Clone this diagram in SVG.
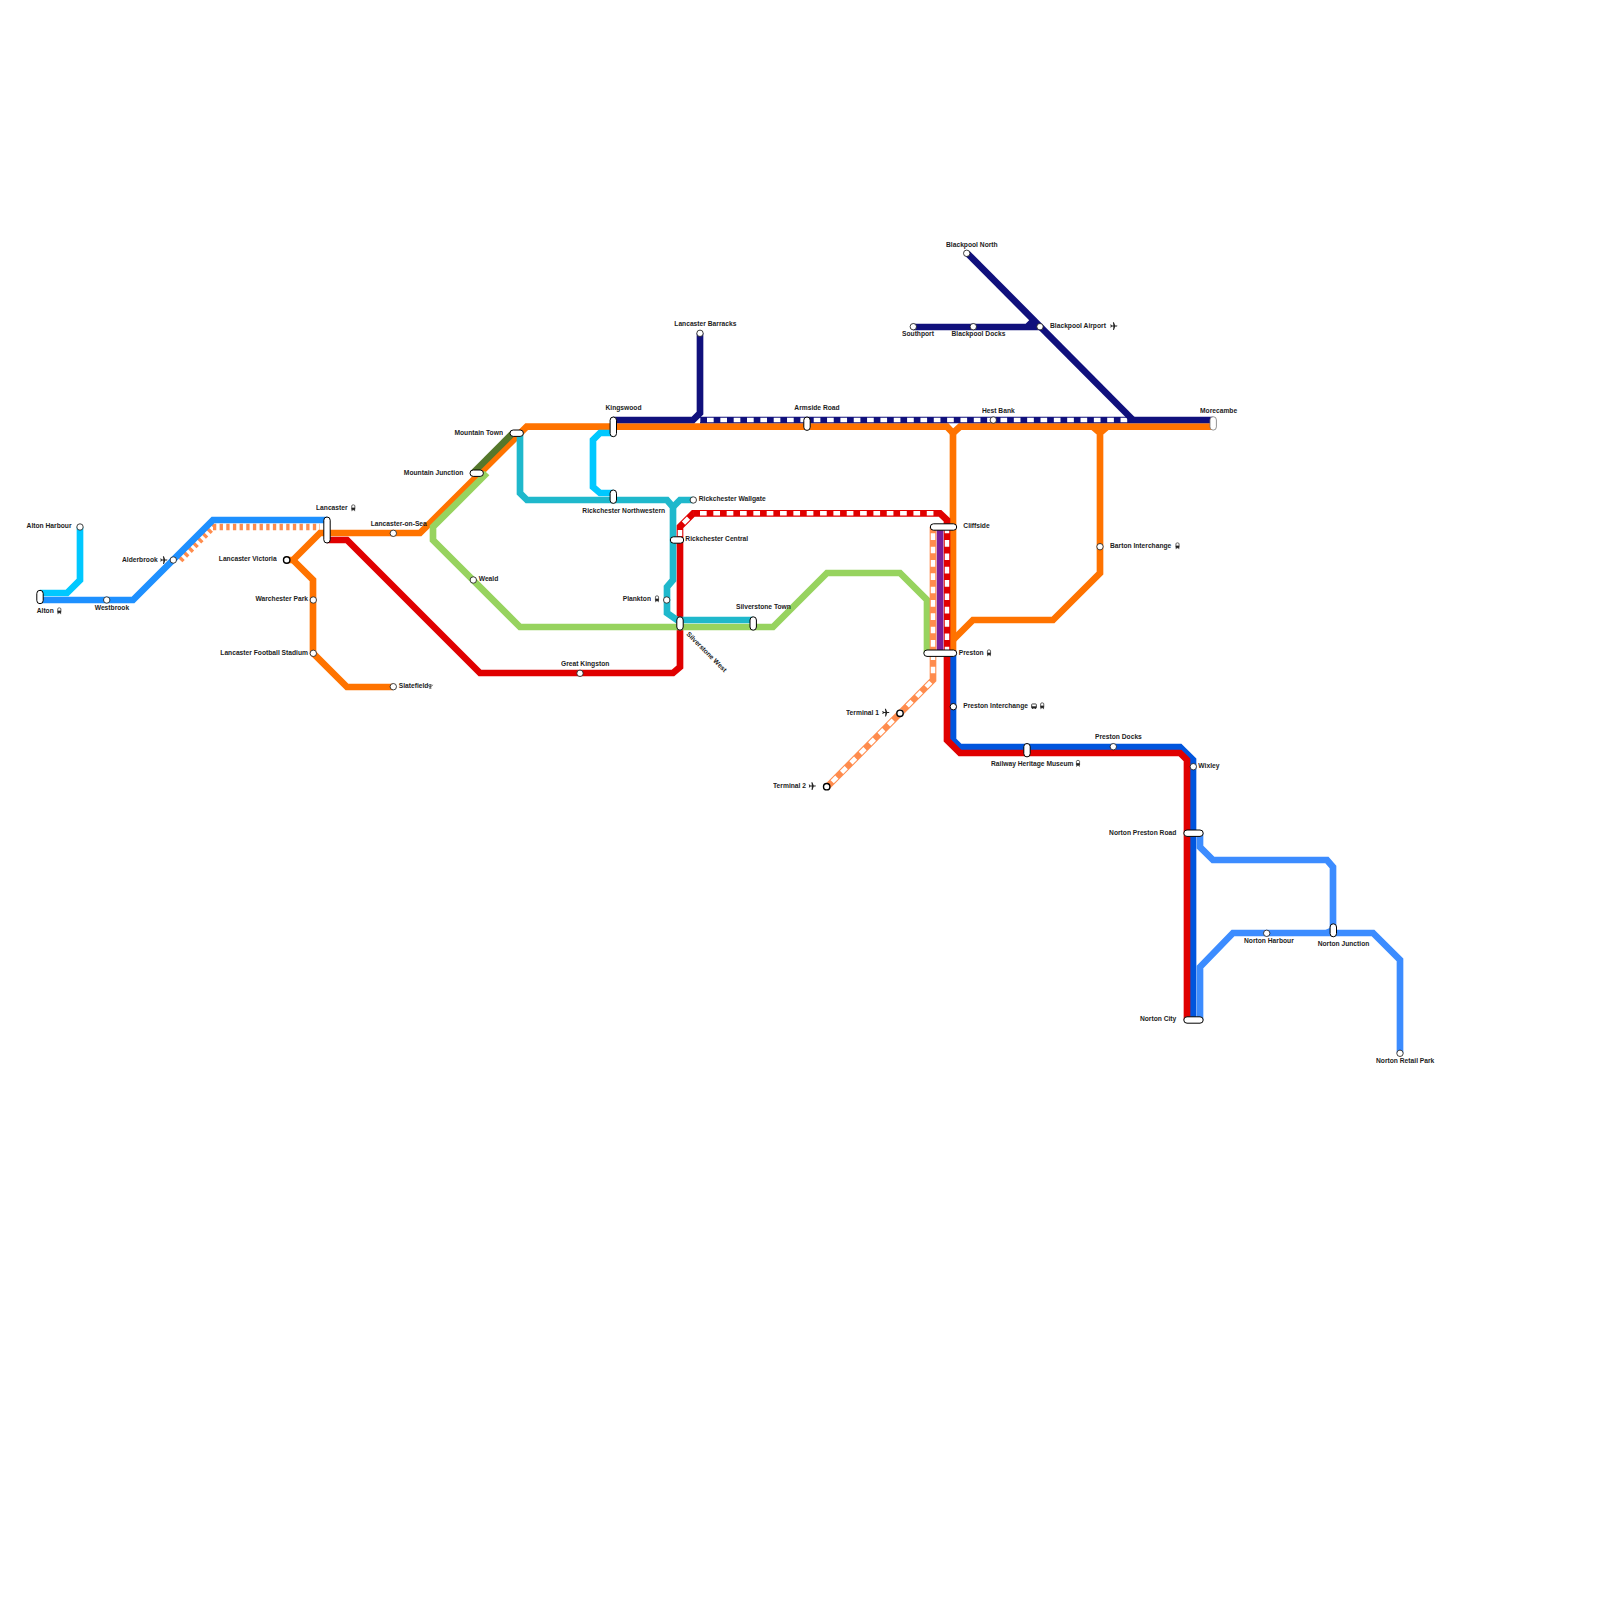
<svg xmlns="http://www.w3.org/2000/svg" width="1600" height="1600" viewBox="0 0 1600 1600">
<style>
text{font-family:"Liberation Sans",Arial,sans-serif;font-size:6.7px;font-weight:bold;fill:#1a1a1a;opacity:.99}
.e{text-anchor:end}
.l{fill:none;stroke-width:6.67;stroke-linejoin:miter}
.w{fill:none;stroke:#fff;stroke-width:4.5;stroke-dasharray:6.67 6.67}
.s{fill:#fff;stroke:#111;stroke-width:.8}
.t{fill:#fff;stroke:#000;stroke-width:1.4}
.p{fill:#fff;stroke:#000;stroke-width:1}
.or{stroke:#ff7300}.oa{stroke:#ff8c4d}.rd{stroke:#e00000}.nv{stroke:#10107c}.cy{stroke:#00c8ff}.bl{stroke:#1e90ff}.te{stroke:#1fb8cc}.gr{stroke:#97d35f}.dg{stroke:#55772b}.pu{stroke:#7a1f9a}.db{stroke:#0055dd}.lb{stroke:#3c8cff}
</style>
<defs>
<symbol id="train" viewBox="0 0 6 8" overflow="visible"><path d="M1.2 3V1.6Q1.2 .4 3 .4T4.8 1.6V5.4Q4.8 6 4.2 6H1.8Q1.2 6 1.2 5.4Z" fill="none" stroke="#222" stroke-width=".8"/><rect x="1.1" y="3.6" width="3.8" height="2.5" fill="#222"/><path d="M1.7 6L1.3 7.6M4.3 6L4.7 7.6" stroke="#222" stroke-width=".8"/></symbol>
<symbol id="bus" viewBox="0 0 6 6" overflow="visible"><rect x=".5" y=".5" width="5" height="4.4" rx=".7" fill="none" stroke="#222" stroke-width=".9"/><rect x=".5" y="3" width="5" height="1.9" fill="#222"/><path d="M1.3 4.9V5.9M4.7 4.9V5.9" stroke="#222" stroke-width=".9"/></symbol>
<symbol id="plane" viewBox="0 0 8 8" overflow="visible"><path d="M.2 2.6L1 2.6 1.9 3.6 3.4 3.6 2.9 .3 3.9 .3 5.2 3.6 7 3.6Q7.9 3.9 7 4.4L5.2 4.4 4 8 3.1 8 3.4 4.4 1.9 4.4 1 5.6 .3 5.6 .8 4Z" fill="#222"/></symbol>
<symbol id="ferry" viewBox="0 0 6 6" overflow="visible"><path d="M.4 1.4Q1 3.4 3 3.4T5.6 1.4M3 .8V5.4M1.4 1.4H4.6M1.6 5H4.4" fill="none" stroke="#333" stroke-width=".8"/></symbol>
</defs>
<g id="connectors">
<path class="l cy" d="M80 527V580L67 593H40"/>
<path class="l oa" style="stroke-dasharray:3.33 3.33" d="M180 560L213 527H320"/>
<path class="l bl" d="M40 600H133L213 520H327"/>
<path class="l or" d="M287 560H293L320 533H420L526.7 426.7H947L953 433L960 426.7H1213"/>
<path class="l or" d="M293 560L313 580V653L347 687H393"/>
<path class="l or" d="M953 433V653"/>
<path class="l or" d="M953 640L973 620H1053L1100 573V433L1093 427M1100 433L1107 427"/>
<path class="l rd" d="M327 540H347L480 673H673L680 667V547"/>
<path class="l dg" d="M473 473L513 433"/>
<path class="l gr" d="M487 473L433 527V540L520 627H773L827 573H900L927 600V653"/>
<path class="l cy" d="M613 433H600L593 440V487L600 493H613"/>
<path class="l te" d="M520 433V493L527 500H667L673 507V580L667 587V613L677 620H753"/>
<path class="l te" d="M673 507L680 500H693"/>
<path class="l rd" d="M680 547V526.7L693.3 513.3H940L947 520V653"/>
<path class="w" style="stroke-dashoffset:-6.7" d="M693.3 513.3H940"/>
<path class="w" style="stroke-dasharray:none" d="M683.5 523.2L688.5 518.2M680 530V536"/>
<path class="w" d="M947 526.7V653"/>
<path class="l pu" d="M940 527V653"/>
<path class="l oa" d="M933 527V680L827 787"/>
<path class="w" style="stroke-dashoffset:-6.3" d="M933 527V680"/>
<path class="w" style="stroke-dashoffset:-3.2" d="M933 680L827 787"/>
<path class="l nv" d="M613 420H693L700 413V333"/>
<path class="l nv" d="M700 420H1213"/>
<path class="w" style="stroke-dashoffset:-7" d="M700 420H1128"/>
<path class="l nv" d="M967 253L1133 420"/>
<path class="l nv" d="M913 327H1040M1027 327L1034 320"/>
<path class="l lb" d="M1200 833V847L1213 860H1327L1333 867V930L1327 933"/>
<path class="l lb" d="M1200 1020V967L1233 933H1373L1400 960V1053"/>
<path class="l db" d="M953 653V740L960 747H1180L1193 760V1020"/>
<path class="l rd" d="M947 653V740L960 753H1180L1187 760V1020"/>
</g>
<g id="n-alton"><rect class="p" x="36.8" y="590.3" width="6.4" height="13.4" rx="3.2"/><text x="36.7" y="613.3">Alton</text><use href="#train" x="56.5" y="607.5" width="5.6" height="7"/></g>
<g id="n-alton-harbour"><circle class="s" cx="80" cy="527" r="3.2"/><text class="e" x="71.5" y="528.3">Alton Harbour</text></g>
<g id="n-westbrook"><circle class="s" cx="106.7" cy="600" r="3.2"/><text x="94.7" y="610">Westbrook</text></g>
<g id="n-alderbrook"><circle class="s" cx="173.3" cy="560" r="3.2"/><text class="e" x="157.7" y="561.8">Alderbrook</text><use href="#plane" x="160" y="556" width="8" height="8"/></g>
<g id="n-lancaster"><rect class="p" x="323.8" y="517" width="6.4" height="26" rx="3.2"/><text x="316" y="510">Lancaster</text><use href="#train" x="350.5" y="504.5" width="5.6" height="7"/></g>
<g id="n-lancaster-victoria"><circle class="t" cx="286.7" cy="560" r="3.2"/><text class="e" x="276.7" y="561.3">Lancaster Victoria</text></g>
<g id="n-lancaster-on-sea"><circle class="s" cx="393.3" cy="533.3" r="3.2"/><text x="370.7" y="526.3">Lancaster-on-Sea</text></g>
<g id="n-warchester-park"><circle class="s" cx="313.3" cy="600" r="3.2"/><text class="e" x="308" y="601.3">Warchester Park</text></g>
<g id="n-lancaster-football-stadium"><circle class="s" cx="313.3" cy="653.3" r="3.2"/><text class="e" x="308" y="655">Lancaster Football Stadium</text></g>
<g id="n-slatefield"><circle class="s" cx="393.3" cy="686.7" r="3.2"/><text x="398.7" y="688.3">Slatefield</text><use href="#ferry" x="427.5" y="683.5" width="5.5" height="5.5"/></g>
<g id="n-mountain-town"><rect class="p" x="510" y="430" width="13.4" height="6.4" rx="3.2"/><text class="e" x="503" y="435">Mountain Town</text></g>
<g id="n-mountain-junction"><rect class="p" x="470" y="470" width="13.4" height="6.4" rx="3.2"/><text class="e" x="463.3" y="475">Mountain Junction</text></g>
<g id="n-weald"><circle class="s" cx="473.3" cy="580" r="3.2"/><text x="478.7" y="581.3">Weald</text></g>
<g id="n-great-kingston"><circle class="s" cx="580" cy="673.3" r="3.2"/><text x="561" y="666.3">Great Kingston</text></g>
<g id="n-kingswood"><rect class="p" x="610.1" y="417" width="6.4" height="19.7" rx="3.2"/><text x="605.5" y="410">Kingswood</text></g>
<g id="n-rickchester-northwestern"><rect class="p" x="610.1" y="490" width="6.4" height="13.4" rx="3.2"/><text x="582.3" y="513">Rickchester Northwestern</text></g>
<g id="n-rickchester-wallgate"><circle class="s" cx="693.3" cy="500" r="3.2"/><text x="698.7" y="501.3">Rickchester Wallgate</text></g>
<g id="n-rickchester-central"><rect class="p" x="670.3" y="536.8" width="13.4" height="6.4" rx="3.2"/><text x="685.3" y="541.3">Rickchester Central</text></g>
<g id="n-plankton"><circle class="s" cx="666.7" cy="600" r="3.2"/><text class="e" x="651" y="601.3">Plankton</text><use href="#train" x="654.2" y="595.5" width="5.6" height="7"/></g>
<g id="n-silverstone-west"><rect class="p" x="676.8" y="616.8" width="6.4" height="13.4" rx="3.2"/><text transform="translate(686 634.5) rotate(45)">Silverstone West</text></g>
<g id="n-silverstone-town"><rect class="p" x="750" y="616.8" width="6.4" height="13.4" rx="3.2"/><text x="736" y="609.3">Silverstone Town</text></g>
<g id="n-lancaster-barracks"><circle class="s" cx="700" cy="333.3" r="3.2"/><text x="674.3" y="326.3">Lancaster Barracks</text></g>
<g id="n-armside-road"><rect class="p" x="803.8" y="417" width="6.4" height="13.4" rx="3.2"/><text x="794.3" y="410">Armside Road</text></g>
<g id="n-hest-bank"><circle class="s" cx="993.3" cy="420" r="3.2"/><text x="982" y="413.3">Hest Bank</text></g>
<g id="n-morecambe"><rect x="1210" y="416.7" width="6.4" height="13.4" rx="3.2" fill="#fff" stroke="#777" stroke-width=".8"/><text x="1200" y="413.3">Morecambe</text></g>
<g id="n-southport"><circle class="s" cx="913.3" cy="326.7" r="3.2"/><text x="902" y="336.3">Southport</text></g>
<g id="n-blackpool-docks"><circle class="s" cx="973.3" cy="326.7" r="3.2"/><text x="951.5" y="336.3">Blackpool Docks</text></g>
<g id="n-blackpool-north"><circle class="s" cx="966.7" cy="253.3" r="3.2"/><text x="946" y="247.3">Blackpool North</text></g>
<g id="n-blackpool-airport"><circle class="s" cx="1040" cy="326.7" r="3.2"/><text x="1050" y="328.3">Blackpool Airport</text><use href="#plane" x="1110" y="322" width="8" height="8"/></g>
<g id="n-cliffside"><rect class="p" x="930.3" y="523.8" width="26.4" height="6.4" rx="3.2"/><text x="963.3" y="528.3">Cliffside</text></g>
<g id="n-preston"><rect class="p" x="923.8" y="650" width="32.9" height="6.4" rx="3.2"/><text x="958.7" y="655">Preston</text><use href="#train" x="986.2" y="649.5" width="5.6" height="7"/></g>
<g id="n-preston-interchange"><circle class="t" style="stroke-width:1" cx="953.3" cy="706.7" r="3.2"/><text x="963.3" y="708.3">Preston Interchange</text><use href="#bus" x="1031.2" y="703.5" width="5.6" height="5.6"/><use href="#train" x="1039.4" y="702.5" width="5.6" height="7"/></g>
<g id="n-barton-interchange"><circle class="s" cx="1100" cy="546.7" r="3.2"/><text x="1110" y="548.3">Barton Interchange</text><use href="#train" x="1174.7" y="542.5" width="5.6" height="7"/></g>
<g id="n-terminal-1"><circle class="t" cx="900" cy="713.3" r="3.2"/><text class="e" x="879" y="715">Terminal 1</text><use href="#plane" x="882" y="708.5" width="8" height="8"/></g>
<g id="n-terminal-2"><circle class="t" cx="826.7" cy="786.7" r="3.2"/><text class="e" x="806" y="788.3">Terminal 2</text><use href="#plane" x="808.5" y="782" width="8" height="8"/></g>
<g id="n-railway-heritage-museum"><rect class="p" x="1023.8" y="743.5" width="6.4" height="13.4" rx="3.2"/><text x="991" y="766.3">Railway Heritage Museum</text><use href="#train" x="1075.2" y="760" width="5.6" height="7"/></g>
<g id="n-preston-docks"><circle class="s" cx="1113.3" cy="746.7" r="3.2"/><text x="1095" y="739.3">Preston Docks</text></g>
<g id="n-wixley"><circle class="s" cx="1193.3" cy="766.7" r="3.2"/><text x="1198.3" y="768.3">Wixley</text></g>
<g id="n-norton-preston-road"><rect class="p" x="1183.8" y="830" width="19.4" height="6.4" rx="3.2"/><text class="e" x="1176.3" y="835">Norton Preston Road</text></g>
<g id="n-norton-city"><rect class="p" x="1183.8" y="1016.8" width="19.4" height="6.4" rx="3.2"/><text class="e" x="1176.3" y="1021.3">Norton City</text></g>
<g id="n-norton-harbour"><circle class="s" cx="1266.7" cy="933.3" r="3.2"/><text x="1244" y="943.3">Norton Harbour</text></g>
<g id="n-norton-junction"><rect class="p" x="1330.1" y="923.8" width="6.4" height="13" rx="3.2"/><text x="1317.7" y="946.3">Norton Junction</text></g>
<g id="n-norton-retail-park"><circle class="s" cx="1400" cy="1053.3" r="3.2"/><text x="1376" y="1063.3">Norton Retail Park</text></g>
</svg>
